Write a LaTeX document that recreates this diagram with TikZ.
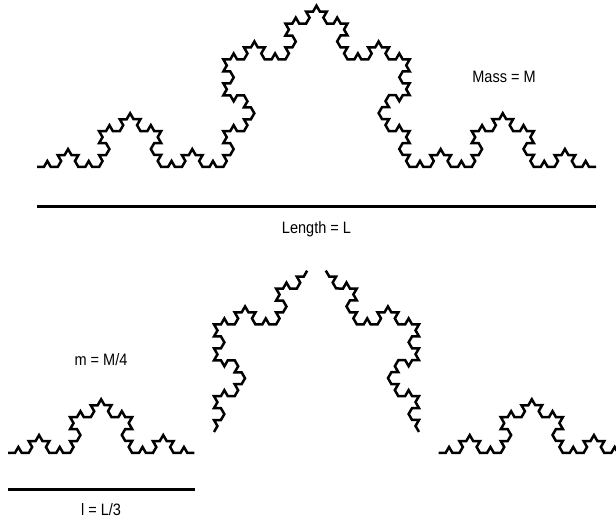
\documentclass[tikz,border=0pt]{standalone}
\usepackage{fontspec}
\setmainfont[FakeStretch=0.88]{Liberation Sans}
\usetikzlibrary{decorations.fractals}

\begin{document}
\begin{tikzpicture}[x=1pt, y=1pt, fractal/.style={line width=2.5pt, decoration={Koch snowflake}}, rule line/.style={line width=3pt}, label text/.style={font=\fontsize{16.5}{19}\selectfont, inner sep=0pt}]
\clip (0,0) rectangle (616,522);
% whole curve
\coordinate (top left) at (37,355);
\coordinate (top right) at (596,355);
\draw[fractal] decorate{decorate{decorate{decorate{(top left) -- (top right)}}}};
\coordinate (long left) at (37,315);
\coordinate (long right) at (596,315);
\draw[rule line] (long left) -- (long right);
\node[label text] (length) at (316.5,293) {Length = L};
\node[label text] (mass) at (504,445) {Mass = M};
% four pieces
\coordinate (p1 a) at (8,69);
\coordinate (p1 b) at (194.3,69);
\coordinate (p2 a) at (214,90);
\coordinate (p2 b) at (307.2,251.4);
\coordinate (p3 a) at (325.8,251.4);
\coordinate (p3 b) at (419,90);
\coordinate (p4 a) at (438.7,69);
\coordinate (p4 b) at (625,69);
\draw[fractal] decorate{decorate{decorate{(p1 a) -- (p1 b)}}};
\draw[fractal] decorate{decorate{decorate{(p2 a) -- (p2 b)}}};
\draw[fractal] decorate{decorate{decorate{(p3 a) -- (p3 b)}}};
\draw[fractal] decorate{decorate{decorate{(p4 a) -- (p4 b)}}};
\coordinate (short left) at (8,32);
\coordinate (short right) at (195,32);
\draw[rule line] (short left) -- (short right);
\node[label text] (small mass) at (101,162) {m = M/4};
\node[label text] (small length) at (101,12) {l = L/3};
\end{tikzpicture}
\end{document}
